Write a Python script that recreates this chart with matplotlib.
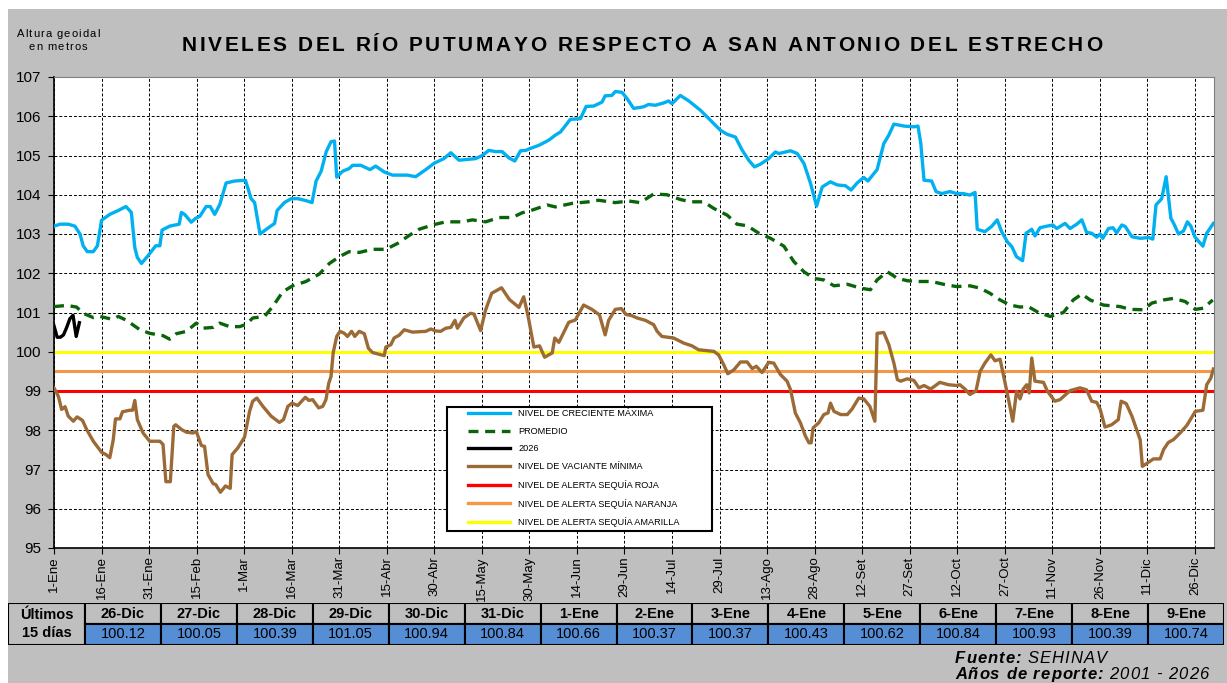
import matplotlib.pyplot as plt
import matplotlib.patches as mpatches
import numpy as np

plt.rcParams['font.family'] = ['Liberation Sans', 'DejaVu Sans']

# day of year (0 = 1-Ene), level in metres
creciente_max = [
    (0, 103.2), (1.9, 103.25), (4.5, 103.25), (6.6, 103.2), (8.2, 103.0), (9.2, 102.7),
    (10.5, 102.55), (12.4, 102.55), (13.7, 102.7), (15, 103.35), (17.6, 103.5), (20.3, 103.6),
    (22.7, 103.7), (24.4, 103.55), (25.5, 102.65), (26.3, 102.4), (27.6, 102.25), (29.7, 102.45),
    (32.1, 102.7), (33.4, 102.7), (34.1, 103.1), (36.5, 103.2), (39.5, 103.25), (40.2, 103.55),
    (41.2, 103.5), (43.3, 103.3), (44.7, 103.4), (46, 103.45), (48, 103.7), (49.3, 103.7),
    (50.7, 103.5), (52.3, 103.75), (54.3, 104.3), (57, 104.35), (60.4, 104.37), (62.2, 103.9),
    (63.3, 103.8), (65, 103.0), (67.5, 103.15), (69.6, 103.27), (70.4, 103.6), (72.7, 103.8),
    (74.8, 103.9), (77, 103.9), (79.5, 103.85), (81.4, 103.8), (82.7, 104.35), (84.3, 104.6),
    (85.9, 105.1), (87.4, 105.35), (88.5, 105.37), (89.2, 104.45), (91.1, 104.6), (93.2, 104.67),
    (94.2, 104.75), (96.8, 104.75), (99.7, 104.64), (101.5, 104.73), (104.2, 104.58), (106.8, 104.5),
    (111.5, 104.5), (114.1, 104.46), (117.3, 104.64), (119.9, 104.8), (123, 104.92), (125.2, 105.07),
    (127.8, 104.88), (130.4, 104.9), (133, 104.92), (135.1, 105.0), (137.2, 105.13), (139.3, 105.1),
    (141.4, 105.1), (143.5, 104.94), (145.4, 104.86), (147.2, 105.12), (148.8, 105.13), (150.3, 105.18),
    (153, 105.26), (156.1, 105.39), (158.2, 105.52), (159.8, 105.6), (162.9, 105.92), (166.1, 105.94),
    (167.9, 106.25), (170.3, 106.26), (172.9, 106.36), (173.9, 106.52), (176, 106.53), (177.1, 106.63),
    (179.2, 106.61), (180.8, 106.45), (182.9, 106.2), (186, 106.24), (187.6, 106.3), (189.7, 106.28),
    (192.4, 106.34), (193.9, 106.39), (195, 106.32), (197.6, 106.53), (200.3, 106.39), (204, 106.15),
    (207.1, 105.9), (210.3, 105.64), (212.4, 105.54), (215, 105.47), (217.1, 105.14), (219.2, 104.88),
    (221, 104.71), (222.9, 104.78), (225.5, 104.92), (227.6, 105.09), (228.7, 105.05), (232.4, 105.12),
    (234.5, 105.05), (236.6, 104.8), (238.7, 104.29), (240.6, 103.71), (242.4, 104.2), (245, 104.33),
    (247.1, 104.25), (249.7, 104.23), (251.5, 104.12), (253.4, 104.3), (255.5, 104.44), (256.8, 104.35),
    (259.7, 104.64), (261.8, 105.3), (263.4, 105.52), (265, 105.8), (268.2, 105.75), (271.3, 105.73),
    (272.6, 105.75), (273.5, 105.3), (274.5, 104.37), (276.9, 104.35), (278.3, 104.08), (280.1, 104.03),
    (282.7, 104.08), (284.8, 104.03), (286.9, 104.03), (289, 103.99), (290.6, 104.06), (291.3, 103.12),
    (293.7, 103.06), (295.8, 103.19), (297.6, 103.36), (299, 103.06), (300.8, 102.8), (302.2, 102.68),
    (303.7, 102.42), (305.6, 102.32), (306.7, 103.02), (308.5, 103.12), (309.5, 102.95), (311.1, 103.16),
    (312.7, 103.19), (315.1, 103.23), (316.4, 103.14), (319, 103.27), (320.6, 103.14), (322.7, 103.25),
    (324.3, 103.36), (325.8, 103.04), (327.4, 103.02), (329, 102.92), (330.1, 103.0), (330.9, 102.89),
    (332.7, 103.14), (334.1, 103.16), (335.3, 103.03), (336.9, 103.23), (338, 103.19), (340.1, 102.93),
    (342.7, 102.89), (345.4, 102.91), (346.7, 102.87), (347.7, 103.74), (349.5, 103.9), (350.9, 104.46),
    (352.4, 103.4), (353.4, 103.25), (354.8, 103.0), (356.4, 103.08), (357.6, 103.31), (358.7, 103.2),
    (360, 102.92), (362.5, 102.69), (363.7, 103.02), (365.8, 103.27),
]

promedio = [
    (0, 101.15), (4, 101.18), (7.1, 101.14), (9.2, 100.98), (12.4, 100.87), (14.5, 100.9),
    (18.2, 100.83), (20.3, 100.9), (22.9, 100.8), (27.1, 100.56), (30.2, 100.47), (34.4, 100.41),
    (36.5, 100.32), (38.6, 100.46), (41.8, 100.52), (44.9, 100.73), (47, 100.6), (50.2, 100.62),
    (52.3, 100.73), (55.4, 100.64), (58.6, 100.64), (60.7, 100.7), (62.7, 100.86), (66.4, 100.9),
    (69, 101.15), (72.2, 101.53), (75.3, 101.68), (79.5, 101.79), (83.7, 101.98), (86.9, 102.25),
    (90, 102.42), (93.1, 102.55), (96.3, 102.53), (100.5, 102.61), (104.7, 102.61), (108.4, 102.76),
    (112, 102.96), (115.2, 103.12), (119.4, 103.23), (123.6, 103.31), (128.8, 103.31), (132, 103.36),
    (136.2, 103.31), (140.4, 103.42), (144.6, 103.42), (147.7, 103.54), (150.9, 103.61), (155.6, 103.74),
    (158.2, 103.69), (163.5, 103.78), (168.7, 103.82), (171.8, 103.86), (177.1, 103.8), (181.3, 103.84),
    (185, 103.8), (189.2, 104.02), (193.4, 104.0), (197.6, 103.88), (200.8, 103.82), (205, 103.82),
    (208.2, 103.65), (212.4, 103.48), (215.5, 103.25), (218.7, 103.21), (222.4, 103.02), (226.1, 102.89),
    (230.3, 102.69), (233.4, 102.3), (236.6, 102.04), (239.7, 101.87), (242.9, 101.83), (246.1, 101.68),
    (250.3, 101.72), (254.5, 101.62), (257.6, 101.58), (259.7, 101.83), (262.9, 102.04), (266.1, 101.87),
    (269.2, 101.81), (272.4, 101.79), (276.9, 101.79), (280.6, 101.72), (284.8, 101.66), (289, 101.68),
    (292.2, 101.62), (295.3, 101.49), (298.5, 101.32), (301.6, 101.19), (304.8, 101.14), (307.4, 101.15),
    (310.6, 101.0), (314.3, 100.9), (318.5, 101.0), (321.6, 101.32), (324.3, 101.47), (326.9, 101.32),
    (331.1, 101.19), (336.4, 101.15), (339.5, 101.08), (343.7, 101.07), (346.4, 101.24), (350.1, 101.32),
    (353.2, 101.36), (356.9, 101.28), (360.1, 101.08), (362.7, 101.11), (365.6, 101.32),
]

vaciante_min = [
    (0, 99.08), (1.4, 98.86), (2.4, 98.53), (3.5, 98.6), (4.5, 98.36), (6.1, 98.23), (7.3, 98.34),
    (9, 98.25), (10.3, 98.02), (12.4, 97.72), (15, 97.44), (16.4, 97.38), (17.6, 97.3), (18.7, 97.76),
    (19.4, 98.29), (20.8, 98.29), (21.6, 98.47), (23.9, 98.51), (24.8, 98.51), (25.5, 98.76),
    (26.3, 98.27), (28.1, 97.93), (30.2, 97.72), (33.4, 97.72), (34.4, 97.64), (35.3, 96.69),
    (36.7, 96.69), (37.8, 98.1), (38.4, 98.14), (40.2, 98.02), (41.8, 97.95), (43.9, 97.93),
    (44.9, 97.97), (46.5, 97.61), (47.5, 97.59), (48.6, 96.87), (50.2, 96.64), (51, 96.62),
    (52.5, 96.42), (54.1, 96.58), (55.6, 96.52), (56.2, 97.38), (58, 97.55), (60.1, 97.82),
    (61.7, 98.48), (62.7, 98.74), (64, 98.82), (65.9, 98.61), (68.5, 98.36), (71.1, 98.2),
    (72.4, 98.27), (73.8, 98.61), (75.1, 98.69), (76.9, 98.63), (79.3, 98.84), (80.4, 98.76),
    (81.6, 98.78), (83.5, 98.57), (84.8, 98.61), (85.8, 98.78), (86.7, 99.2), (87.4, 99.37),
    (88.1, 99.98), (89.2, 100.39), (90.2, 100.52), (91.6, 100.47), (92.6, 100.39), (93.9, 100.52),
    (94.9, 100.39), (96.3, 100.52), (97.9, 100.46), (99.2, 100.09), (100.5, 99.98), (104.2, 99.9),
    (104.7, 100.12), (106.3, 100.18), (107.3, 100.35), (108.9, 100.42), (110.5, 100.56), (113.1, 100.5),
    (117.3, 100.52), (118.9, 100.58), (120.4, 100.53), (122, 100.52), (123.6, 100.6), (125.2, 100.62),
    (126.5, 100.8), (127.3, 100.6), (129.3, 100.86), (131.4, 100.98), (132.5, 100.96), (134.6, 100.54),
    (136.2, 101.07), (138.1, 101.49), (141.2, 101.63), (143.7, 101.33), (146.7, 101.13), (148.2, 101.4),
    (149.6, 100.9), (151.4, 100.12), (153.2, 100.15), (154.8, 99.86), (157.2, 99.97), (158, 100.35),
    (159.3, 100.24), (162.4, 100.75), (164.5, 100.81), (167.1, 101.19), (169.7, 101.08), (172.1, 100.94),
    (173.9, 100.43), (175, 100.8), (177.1, 101.08), (179, 101.1), (180.5, 100.95), (182.3, 100.92),
    (184, 100.86), (186.6, 100.8), (189.2, 100.69), (190.3, 100.52), (191.8, 100.39), (195.5, 100.35),
    (198.7, 100.22), (201.3, 100.15), (203.4, 100.05), (208.2, 100.01), (209.7, 99.92), (211.3, 99.67),
    (212.6, 99.44), (214.5, 99.54), (216.6, 99.74), (218.7, 99.74), (220.3, 99.57), (221.6, 99.63),
    (223.4, 99.47), (225.5, 99.73), (227.1, 99.71), (229.2, 99.42), (231.3, 99.25), (232.4, 99.03),
    (233.9, 98.44), (235.5, 98.19), (237.1, 97.85), (238.2, 97.68), (238.9, 97.68), (239.5, 98.06),
    (241.3, 98.19), (242.9, 98.4), (244.2, 98.44), (245, 98.69), (246.1, 98.48), (248.2, 98.4),
    (250.3, 98.4), (251.8, 98.54), (253.9, 98.82), (255.5, 98.8), (257.4, 98.61), (259, 98.23),
    (259.7, 100.47), (261.8, 100.49), (263.4, 100.18), (265, 99.71), (266.1, 99.29), (267.1, 99.25),
    (269.2, 99.31), (271.3, 99.27), (272.9, 99.08), (274.5, 99.14), (276.6, 99.05), (279.5, 99.22),
    (282.2, 99.16), (284.8, 99.14), (285.8, 99.16), (287.4, 99.05), (289, 98.91), (290.9, 99.0),
    (292.2, 99.5), (293.7, 99.71), (295.6, 99.92), (296.9, 99.77), (298.5, 99.81), (300.1, 99.2),
    (301.6, 98.61), (302.5, 98.23), (303.7, 98.99), (304.8, 98.8), (305.8, 99.05), (306.9, 99.16),
    (307.7, 98.95), (308.5, 99.84), (309.5, 99.25), (312.2, 99.22), (313.4, 99.0), (315.8, 98.74),
    (317.4, 98.78), (320.6, 99.01), (323.7, 99.08), (325.8, 99.03), (327.4, 98.74), (329, 98.71),
    (330.1, 98.53), (331.6, 98.08), (333.7, 98.14), (335.8, 98.27), (336.7, 98.74), (338.3, 98.68),
    (340.1, 98.36), (342.7, 97.76), (343.4, 97.08), (345.4, 97.19), (346.9, 97.27), (349, 97.27),
    (350.1, 97.51), (351.6, 97.69), (353.2, 97.76), (355.3, 97.93), (357.4, 98.12), (360.1, 98.48),
    (362.5, 98.51), (363.7, 99.16), (365, 99.33), (365.8, 99.56),
]

# last 15 days table (the last 9 are 2026)
ultimos_fechas = ['26-Dic', '27-Dic', '28-Dic', '29-Dic', '30-Dic', '31-Dic', '1-Ene', '2-Ene',
                  '3-Ene', '4-Ene', '5-Ene', '6-Ene', '7-Ene', '8-Ene', '9-Ene']
ultimos_niveles = [100.12, 100.05, 100.39, 101.05, 100.94, 100.84, 100.66, 100.37,
                   100.37, 100.43, 100.62, 100.84, 100.93, 100.39, 100.74]
dias_2026 = list(range(9))
niveles_2026 = ultimos_niveles[6:]

alerta_roja = 99.0
alerta_naranja = 99.5
alerta_amarilla = 100.0

tick_dias = list(range(0, 361, 15))
tick_labels = ['1-Ene', '16-Ene', '31-Ene', '15-Feb', '1-Mar', '16-Mar', '31-Mar', '15-Abr',
               '30-Abr', '15-May', '30-May', '14-Jun', '29-Jun', '14-Jul', '29-Jul', '13-Ago',
               '28-Ago', '12-Set', '27-Set', '12-Oct', '27-Oct', '11-Nov', '26-Nov', '11-Dic', '26-Dic']

leyenda = ['NIVEL DE CRECIENTE MÁXIMA', 'PROMEDIO', '2026', 'NIVEL DE VACIANTE MÍNIMA',
           'NIVEL DE ALERTA SEQUÍA ROJA', 'NIVEL DE ALERTA SEQUÍA NARANJA',
           'NIVEL DE ALERTA SEQUÍA AMARILLA']

W, H = 1227, 683
fig = plt.figure(figsize=(W / 100, H / 100), dpi=100, facecolor='white')
rend = fig.canvas.get_renderer()
gris = '#bfbfbf'
fig.patches.append(mpatches.Rectangle((8 / W, 0), 1 - 8 / W, (H - 9) / H,
                                      transform=fig.transFigure, facecolor=gris,
                                      edgecolor='none', zorder=-10))


def ancho_txt(s, **kw):
    t = fig.text(0, 0, s, **kw)
    w = t.get_window_extent(rend).width
    t.remove()
    return w


def texto_espaciado(x, y, partes, espacio=0, ha='left', va='baseline'):
    # partes: list of (text, kwargs); x, y in pixels from top-left
    chars = [(c, kw) for s, kw in partes for c in s]
    avances = [ancho_txt(c + 'I', **kw) - ancho_txt('I', **kw) for c, kw in chars]
    total = sum(avances) + espacio * (len(chars) - 1)
    x0 = x - total / 2 if ha == 'center' else x
    for (c, kw), a in zip(chars, avances):
        fig.text(x0 / W, 1 - y / H, c, ha='left', va=va, **kw)
        x0 += a + espacio


ax = fig.add_axes([54 / W, (H - 548) / H, (1214 - 54) / W, (548 - 77) / H])
ax.set_facecolor('white')

ax.axhline(alerta_roja, color='#ff0000', lw=2.2, zorder=2)
ax.axhline(alerta_naranja, color='#f79646', lw=2.2, zorder=2)
ax.axhline(alerta_amarilla, color='#ffff00', lw=2.2, zorder=2)

cx, cy = np.array(creciente_max).T
px, py = np.array(promedio).T
vx, vy = np.array(vaciante_min).T
l1, = ax.plot(cx, cy, color='#00b0f0', lw=2.4, zorder=4)
l2, = ax.plot(px, py, color='#0a640a', lw=2.4, ls=(0, (3, 2)), zorder=4)
l3, = ax.plot(dias_2026, niveles_2026, color='black', lw=2.4, zorder=5)
l4, = ax.plot(vx, vy, color='#9c6a36', lw=2.4, zorder=4)
l5 = plt.Line2D([], [], color='#ff0000', lw=2.4)
l6 = plt.Line2D([], [], color='#f79646', lw=2.4)
l7 = plt.Line2D([], [], color='#ffff00', lw=2.4)

ax.set_xlim(0, 366)
ax.set_ylim(95, 107)
ax.set_yticks(range(95, 108))
ax.set_xticks(tick_dias)
ax.set_xticklabels(tick_labels, rotation=90, fontsize=9.5)
ax.tick_params(axis='y', labelsize=11, length=4, direction='out', pad=5)
ax.tick_params(axis='x', length=4, direction='out', pad=2)
ax.grid(True, color='black', ls=(0, (3, 2)), lw=0.7)
for s in ['top', 'right']:
    ax.spines[s].set_color('#808080')
ax.spines['left'].set_linewidth(1.2)
ax.spines['bottom'].set_linewidth(1.2)


# legend box drawn by hand, entries by legend()
def ax_xy(xp, yp):
    return (xp - 54) / 1160, (548 - yp) / 471


bx0, by0 = ax_xy(447, 531)
bx1, by1 = ax_xy(712, 407)
ax.add_patch(mpatches.Rectangle((bx0, by0), bx1 - bx0, by1 - by0, transform=ax.transAxes,
                                facecolor='white', edgecolor='black', lw=1.5, zorder=9))
leg = ax.legend([l1, l2, l3, l4, l5, l6, l7], leyenda,
                loc='upper left', bbox_to_anchor=ax_xy(468, 409), fontsize=6.6,
                frameon=False, handlelength=4.6, labelspacing=0.95, handletextpad=0.9,
                borderpad=0, borderaxespad=0)
leg.set_zorder(10)

texto_espaciado(642, 51, [('NIVELES DEL RÍO PUTUMAYO RESPECTO A SAN ANTONIO DEL ESTRECHO',
                           dict(fontsize=15, fontweight='bold'))], espacio=2.6, ha='center')
texto_espaciado(58, 37, [('Altura geoidal', dict(fontsize=8))], espacio=1.1, ha='center')
texto_espaciado(58, 50, [('en metros', dict(fontsize=8))], espacio=1.1, ha='center')

# table of the last 15 days
tab = fig.add_axes([8 / W, (H - 645) / H, (1224 - 8) / W, (645 - 603) / H])
tab.set_xlim(0, 1216)
tab.set_ylim(0, 2)
tab.axis('off')
ancho0, ancho = 77, (1216 - 77) / 15
tab.add_patch(mpatches.Rectangle((0, 0), ancho0, 2, facecolor=gris, edgecolor='black', lw=1.5))
tab.text(ancho0 / 2, 1, 'Últimos\n15 días', ha='center', va='center', fontsize=10.5,
         fontweight='bold', linespacing=1.3)
for i, (f, v) in enumerate(zip(ultimos_fechas, ultimos_niveles)):
    x0 = ancho0 + i * ancho
    tab.add_patch(mpatches.Rectangle((x0, 1), ancho, 1, facecolor=gris, edgecolor='black', lw=1.5))
    tab.add_patch(mpatches.Rectangle((x0, 0), ancho, 1, facecolor='#558ed5', edgecolor='black', lw=1.5))
    tab.text(x0 + ancho / 2, 1.5, f, ha='center', va='center', fontsize=10.5, fontweight='bold')
    tab.text(x0 + ancho / 2, 0.5, f'{v:.2f}', ha='center', va='center', fontsize=10.5)

negrita = dict(fontsize=12, fontweight='bold', style='italic')
cursiva = dict(fontsize=12, style='italic')
texto_espaciado(955, 663, [('Fuente:', negrita), (' SEHINAV', cursiva)], espacio=1.0)
texto_espaciado(955, 679, [('Años de reporte:', negrita), (' 2001 - 2026', cursiva)], espacio=1.0)

fig.savefig('out.png', dpi=100, facecolor=fig.get_facecolor())
